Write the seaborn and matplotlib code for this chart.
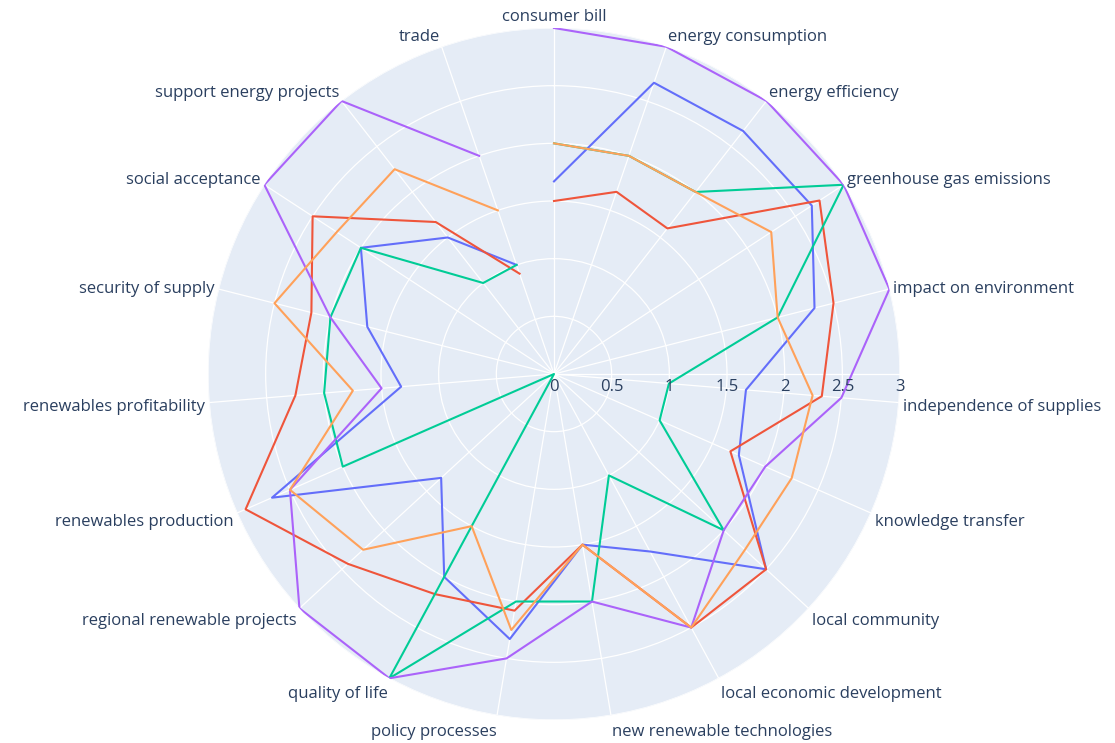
import numpy as np
import pandas as pd
import matplotlib
matplotlib.use("Agg")
import matplotlib.pyplot as plt
import matplotlib.transforms as mtransforms
import seaborn as sns

# Categories around the radar, clockwise from the top
categories = [
    "consumer bill", "energy consumption", "energy efficiency",
    "greenhouse gas emissions", "impact on environment", "independence of supplies",
    "knowledge transfer", "local community", "local economic development",
    "new renewable technologies", "policy processes", "quality of life",
    "regional renewable projects", "renewables production", "renewables profitability",
    "security of supply", "social acceptance", "support energy projects", "trade",
]

# Values (one list per series)
series_1 = [1.67, 2.67, 2.67, 2.67, 2.33, 1.67, 1.75, 2.5, 1.75, 1.5,
            2.33, 2.0, 1.33, 2.67, 1.33, 1.67, 2.0, 1.5, 1.0]
series_2 = [1.5, 1.67, 1.6, 2.75, 2.5, 2.33, 1.67, 2.5, 2.5, 1.5,
            2.08, 2.17, 2.43, 2.92, 2.25, 2.17, 2.5, 1.67, 0.92]
series_3 = [2, 2, 2, 3, 2, 1, 1, 2, 1, 2,
            2, 3, 0, 2, 2, 2, 2, 1, 1]
series_4 = [3, 3, 3, 3, 3, 2.5, 2, 2, 2.5, 2,
            2.5, 3, 3, 2.5, 1.5, 2, 3, 3, 2]
series_5 = [2, 2, 2, 2.25, 2, 2.25, 2.25, 2.25, 2.5, 1.5,
            2.25, 1.5, 2.25, 2.5, 1.75, 2.5, 2.25, 2.25, 1.5]

series_names = ["series 1", "series 2", "series 3", "series 4", "series 5"]
colors = ["#636efa", "#EF553B", "#00cc96", "#ab63fa", "#FFA15A"]

r_ticks = [0, 0.5, 1, 1.5, 2, 2.5, 3]
r_labels = ["0", "0.5", "1", "1.5", "2", "2.5", "3"]

# Long table for seaborn
n = len(categories)
theta = 2 * np.pi * np.arange(n) / n
rows = []
for name, vals in zip(series_names, [series_1, series_2, series_3, series_4, series_5]):
    for k, v in enumerate(vals):
        rows.append({"series": name, "theta": theta[k], "value": v})
df = pd.DataFrame(rows)

text_color = "#2a3f5f"
font = "Open Sans"

fig = plt.figure(figsize=(11.15, 7.43), dpi=100)
cx, cy = 554 / 1115, 1 - 374 / 743
w, h = 692 / 1115, 692 / 743
ax = fig.add_axes([cx - w / 2, cy - h / 2, w, h], projection="polar")
ax.set_facecolor("#E5ECF6")
ax.set_theta_zero_location("N")
ax.set_theta_direction(-1)

sns.lineplot(data=df, x="theta", y="value", hue="series", hue_order=series_names,
             palette=colors, sort=False, estimator=None, units="series",
             linewidth=1.5, legend=False, ax=ax)

ax.set_xlim(0, 2 * np.pi)
ax.set_ylim(0, 3)
ax.set_xlabel("")
ax.set_ylabel("")
ax.set_xticks(theta)
ax.set_xticklabels([])
ax.set_yticks(r_ticks)
ax.set_yticklabels([])
ax.grid(True, color="white", linewidth=0.9)
ax.spines["polar"].set_visible(False)
ax.tick_params(length=0)
# radial axis line pointing east
ax.axvline(np.pi / 2, color="white", linewidth=0.9, zorder=1)

# radial tick labels just under the axis line
r_trans = mtransforms.offset_copy(ax.transData, fig=fig, x=0, y=-13, units="dots")
for r, lab in zip(r_ticks, r_labels):
    ax.text(np.pi / 2, r, lab, transform=r_trans, ha="center", va="center",
            fontsize=12, color=text_color, family=font)

# category labels outside the circle
for k, cat in enumerate(categories):
    a = np.pi / 2 - theta[k]
    c, s = np.cos(a), np.sin(a)
    if c > 0.05:
        ha = "left"
    elif c < -0.05:
        ha = "right"
    else:
        ha = "center"
    tr = mtransforms.offset_copy(ax.transData, fig=fig, x=4 * c, y=14 * s - 3, units="dots")
    ax.text(theta[k], 3, cat, transform=tr, ha=ha, va="center",
            fontsize=12, color=text_color, family=font, clip_on=False)

plt.savefig("out.png", dpi=100)
